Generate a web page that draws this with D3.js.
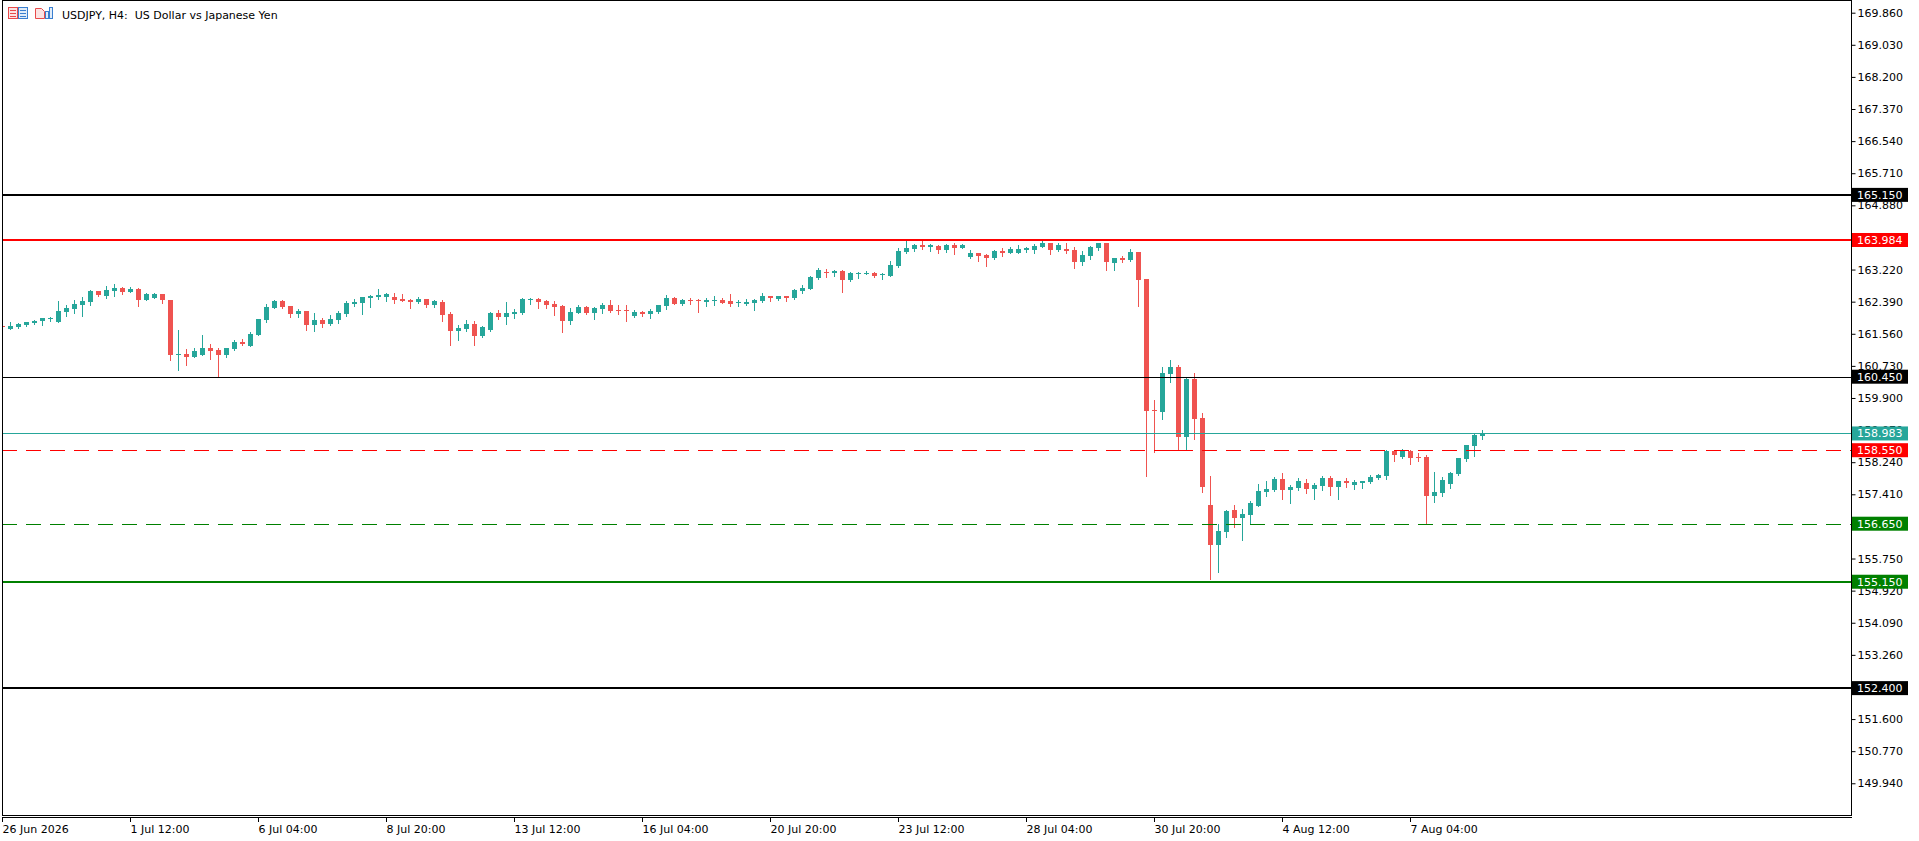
<!DOCTYPE html>
<html>
<head>
<meta charset="utf-8">
<script src="https://cdn.jsdelivr.net/npm/d3@7"></script>
<style>
  html, body { margin: 0; padding: 0; background: #fff; }
  svg { display: block; font-family: "DejaVu Sans", Verdana, sans-serif; font-size: 11px; }
</style>
</head>
<body>
<svg id="chart" width="1919" height="841"></svg>
<script>
// ===== Data (USDJPY H4, bar 0 = 26 Jun 2026 20:00) =====
const opens = [
  161.760, 161.683, 161.734, 161.795, 161.838, 161.890, 161.941, 161.872, 162.122, 162.208,
  162.312, 162.389, 162.665, 162.544, 162.674, 162.743, 162.648, 162.717, 162.441, 162.493,
  162.587, 162.432, 161.019, 161.036, 160.967, 161.019, 161.191, 161.140, 161.019, 161.166,
  161.347, 161.243, 161.528, 161.915, 162.226, 162.407, 162.277, 162.070, 162.148, 161.786,
  161.915, 161.812, 161.915, 162.070, 162.329, 162.355, 162.484, 162.519, 162.519, 162.510,
  162.458, 162.432, 162.381, 162.458, 162.303, 162.381, 162.070, 161.631, 161.683, 161.812,
  161.502, 161.657, 162.096, 161.993, 162.070, 162.096, 162.450, 162.458, 162.407, 162.329,
  162.277, 161.890, 162.096, 162.251, 162.096, 162.200, 162.303, 162.174, 162.174, 162.019,
  162.122, 162.079, 162.122, 162.277, 162.484, 162.337, 162.441, 162.441, 162.389, 162.415,
  162.432, 162.406, 162.355, 162.337, 162.363, 162.406, 162.536, 162.458, 162.536, 162.484,
  162.665, 162.717, 163.001, 163.156, 163.130, 163.182, 162.949, 163.122, 163.113, 163.130,
  163.079, 163.053, 163.311, 163.673, 163.751, 163.854, 163.802, 163.828, 163.725, 163.854,
  163.777, 163.544, 163.647, 163.596, 163.518, 163.699, 163.647, 163.647, 163.725, 163.725,
  163.802, 163.906, 163.725, 163.751, 163.725, 163.415, 163.570, 163.777, 163.906, 163.389,
  163.509, 163.466, 163.673, 162.975, 159.588, 159.537, 160.519, 160.700, 158.890, 160.390,
  159.381, 157.132, 156.098, 156.434, 157.003, 156.805, 156.874, 157.106, 157.468, 157.520,
  157.805, 157.520, 157.572, 157.701, 157.546, 157.624, 157.830, 157.598, 157.753, 157.649,
  157.701, 157.727, 157.830, 157.882, 158.528, 158.373, 158.528, 158.373, 158.373, 157.365,
  157.443, 157.675, 157.934, 158.322, 158.658, 158.916
];
const highs = [
  161.770, 161.864, 161.829, 161.864, 161.915, 161.967, 162.001, 162.407, 162.303, 162.432,
  162.510, 162.691, 162.665, 162.794, 162.846, 162.768, 162.768, 162.743, 162.613, 162.613,
  162.587, 162.432, 161.657, 161.166, 161.191, 161.528, 161.295, 161.191, 161.191, 161.398,
  161.424, 161.605, 161.941, 162.329, 162.432, 162.432, 162.277, 162.200, 162.148, 162.096,
  161.967, 162.045, 162.148, 162.407, 162.458, 162.510, 162.562, 162.717, 162.613, 162.613,
  162.587, 162.458, 162.510, 162.458, 162.432, 162.432, 162.122, 161.786, 161.915, 161.890,
  161.760, 162.122, 162.174, 162.381, 162.200, 162.484, 162.484, 162.484, 162.432, 162.407,
  162.303, 162.226, 162.303, 162.277, 162.251, 162.355, 162.432, 162.303, 162.303, 162.174,
  162.148, 162.200, 162.303, 162.561, 162.510, 162.458, 162.493, 162.458, 162.475, 162.536,
  162.484, 162.587, 162.432, 162.458, 162.458, 162.613, 162.536, 162.536, 162.536, 162.717,
  162.820, 163.053, 163.259, 163.234, 163.208, 163.208, 163.156, 163.156, 163.182, 163.156,
  163.130, 163.440, 163.777, 163.983, 163.880, 163.958, 163.880, 163.854, 163.880, 163.906,
  163.880, 163.725, 163.647, 163.621, 163.725, 163.777, 163.802, 163.854, 163.802, 163.880,
  163.958, 163.906, 163.906, 163.906, 163.802, 163.699, 163.828, 163.906, 163.906, 163.518,
  163.570, 163.751, 163.673, 162.975, 159.847, 160.700, 160.881, 160.752, 160.441, 160.545,
  159.511, 157.882, 156.641, 157.003, 157.132, 157.029, 157.236, 157.675, 157.753, 157.856,
  157.960, 157.649, 157.830, 157.805, 157.701, 157.882, 157.882, 157.753, 157.830, 157.779,
  157.753, 157.908, 157.934, 158.554, 158.554, 158.580, 158.554, 158.477, 158.425, 157.985,
  157.856, 157.985, 158.347, 158.684, 158.968, 159.071
];
const lows = [
  161.740, 161.683, 161.717, 161.769, 161.821, 161.795, 161.898, 161.872, 162.027, 162.105,
  162.027, 162.312, 162.544, 162.493, 162.544, 162.596, 162.648, 162.286, 162.424, 162.475,
  162.363, 160.890, 160.631, 160.760, 160.967, 161.019, 160.916, 160.468, 160.967, 161.140,
  161.269, 161.243, 161.528, 161.864, 162.226, 162.234, 161.993, 161.993, 161.657, 161.631,
  161.734, 161.786, 161.846, 162.027, 162.286, 162.070, 162.251, 162.458, 162.407, 162.355,
  162.415, 162.226, 162.355, 162.251, 162.260, 161.890, 161.269, 161.398, 161.631, 161.269,
  161.476, 161.631, 161.941, 161.812, 161.967, 162.070, 162.338, 162.226, 162.226, 162.045,
  161.605, 161.812, 162.096, 162.070, 161.941, 162.096, 162.122, 162.070, 161.890, 161.993,
  162.019, 161.975, 162.105, 162.208, 162.337, 162.303, 162.337, 162.131, 162.286, 162.312,
  162.363, 162.277, 162.277, 162.312, 162.174, 162.380, 162.406, 162.441, 162.406, 162.458,
  162.613, 162.717, 162.975, 163.027, 163.053, 162.639, 162.923, 163.001, 163.104, 163.027,
  162.975, 163.053, 163.285, 163.647, 163.699, 163.751, 163.699, 163.647, 163.673, 163.621,
  163.777, 163.518, 163.440, 163.311, 163.492, 163.570, 163.647, 163.647, 163.673, 163.647,
  163.802, 163.621, 163.699, 163.647, 163.259, 163.337, 163.492, 163.725, 163.208, 163.208,
  163.415, 163.440, 162.277, 157.882, 158.511, 159.355, 160.312, 158.545, 158.545, 158.839,
  157.468, 155.219, 155.400, 156.305, 156.572, 156.227, 156.658, 157.106, 157.365, 157.494,
  157.288, 157.184, 157.520, 157.443, 157.288, 157.520, 157.391, 157.288, 157.598, 157.546,
  157.572, 157.701, 157.805, 157.805, 158.270, 158.347, 158.192, 158.270, 156.658, 157.210,
  157.365, 157.572, 157.908, 158.270, 158.399, 158.839
];
const closes = [
  161.750, 161.769, 161.812, 161.864, 161.890, 161.967, 161.958, 162.148, 162.226, 162.329,
  162.407, 162.665, 162.570, 162.691, 162.743, 162.648, 162.717, 162.441, 162.587, 162.587,
  162.441, 161.019, 161.028, 160.967, 161.114, 161.191, 161.114, 161.019, 161.191, 161.347,
  161.295, 161.553, 161.941, 162.251, 162.407, 162.251, 162.070, 162.148, 161.786, 161.915,
  161.812, 161.941, 162.096, 162.355, 162.381, 162.510, 162.536, 162.562, 162.587, 162.432,
  162.415, 162.389, 162.458, 162.303, 162.407, 162.045, 161.631, 161.708, 161.812, 161.502,
  161.734, 162.096, 161.993, 162.096, 162.122, 162.458, 162.458, 162.381, 162.303, 162.251,
  161.890, 162.122, 162.251, 162.096, 162.226, 162.303, 162.148, 162.157, 162.157, 162.122,
  162.070, 162.148, 162.303, 162.484, 162.337, 162.432, 162.415, 162.398, 162.432, 162.432,
  162.363, 162.337, 162.372, 162.389, 162.441, 162.536, 162.484, 162.536, 162.484, 162.691,
  162.742, 163.027, 163.208, 163.139, 163.182, 162.949, 163.130, 163.139, 163.130, 163.053,
  163.096, 163.337, 163.699, 163.777, 163.854, 163.802, 163.854, 163.725, 163.854, 163.777,
  163.854, 163.647, 163.570, 163.518, 163.699, 163.656, 163.751, 163.751, 163.777, 163.828,
  163.906, 163.725, 163.854, 163.699, 163.415, 163.596, 163.802, 163.906, 163.415, 163.518,
  163.466, 163.673, 162.949, 159.562, 159.571, 160.545, 160.700, 158.890, 160.390, 159.355,
  157.598, 156.098, 156.460, 156.977, 156.805, 156.900, 157.184, 157.494, 157.546, 157.805,
  157.520, 157.598, 157.753, 157.546, 157.649, 157.830, 157.598, 157.753, 157.710, 157.727,
  157.753, 157.856, 157.908, 158.528, 158.425, 158.528, 158.347, 158.347, 157.365, 157.468,
  157.779, 157.960, 158.347, 158.684, 158.942, 158.983
];

// price axis ticks (every 0.83)
const yTicks = [169.86, 169.03, 168.20, 167.37, 166.54, 165.71, 164.88, 164.05, 163.22, 162.39,
  161.56, 160.73, 159.90, 159.07, 158.24, 157.41, 156.58, 155.75, 154.92, 154.09,
  153.26, 152.43, 151.60, 150.77, 149.94];

// time axis: bar index + label
const xTickBars = [0, 16, 32, 48, 64, 80, 96, 112, 128, 144, 160, 176];
const xTickLabels = ["26 Jun 2026", "1 Jul 12:00", "6 Jul 04:00", "8 Jul 20:00", "13 Jul 12:00",
  "16 Jul 04:00", "20 Jul 20:00", "23 Jul 12:00", "28 Jul 04:00", "30 Jul 20:00",
  "4 Aug 12:00", "7 Aug 04:00"];

// horizontal levels drawn on the chart
const levelValues = [165.150, 163.984, 160.450, 158.983, 158.550, 156.650, 155.150, 152.400];
const levelKinds = ["black2", "red2", "black1", "teal1", "redDash", "greenDash", "green2", "black2"];

// short segment on the 158.550 level (bar indices)
const segBars = [144, 148];
const segValue = 158.550;

// ===== Styles =====
const UP = "#26a69a", DOWN = "#ef5350";
const kindStyle = {
  black2:    { color: "#000000", w: 2, dash: null, label: "#000000" },
  black1:    { color: "#000000", w: 1, dash: null, label: "#000000" },
  red2:      { color: "#ff0000", w: 2, dash: null, label: "#ff0000" },
  teal1:     { color: "#26a69a", w: 1, dash: null, label: "#26a69a" },
  redDash:   { color: "#ff0000", w: 1, dash: "15,9", label: "#ff0000" },
  greenDash: { color: "#008000", w: 1, dash: "15,9", label: "#008000" },
  green2:    { color: "#008000", w: 2, dash: null, label: "#008000" }
};

// ===== Layout =====
const svg = d3.select("#chart");
const plot = { left: 2, top: 0, right: 1851, bottom: 815 };

const x = d3.scaleLinear().domain([0, 231]).range([2.5, 1850.5]);
const y = d3.scaleLinear().domain([149.12, 170.188]).range([plot.bottom, plot.top]);

const crisp = (v, w) => (w % 2 === 1 ? Math.round(v) + 0.5 : Math.round(v));

// clip for the plot area
svg.append("defs").append("clipPath").attr("id", "plotClip")
  .append("rect")
  .attr("x", plot.left + 1).attr("y", plot.top + 1)
  .attr("width", plot.right - plot.left - 1).attr("height", plot.bottom - plot.top - 1);

const g = svg.append("g").attr("clip-path", "url(#plotClip)");

// ===== Candles =====
const bars = opens.map((o, i) => ({ i, o, h: highs[i], l: lows[i], c: closes[i] }));

g.append("g").selectAll("line")
  .data(bars)
  .join("line")
  .attr("x1", d => x(d.i)).attr("x2", d => x(d.i))
  .attr("y1", d => Math.round(y(d.h)))
  .attr("y2", d => Math.round(y(d.l)) + 1)
  .attr("stroke", d => (d.c >= d.o ? UP : DOWN))
  .attr("stroke-width", 1);

g.append("g").selectAll("rect")
  .data(bars)
  .join("rect")
  .attr("x", d => x(d.i) - 2.5)
  .attr("width", 5)
  .attr("y", d => Math.round(y(Math.max(d.o, d.c))))
  .attr("height", d => Math.max(1, Math.round(y(Math.min(d.o, d.c))) - Math.round(y(Math.max(d.o, d.c)))))
  .attr("fill", d => (d.c >= d.o ? UP : DOWN));

// ===== Levels =====
const levels = levelValues.map((v, i) => ({ v, s: kindStyle[levelKinds[i]] }));

g.append("g").selectAll("line")
  .data(levels)
  .join("line")
  .attr("x1", plot.left).attr("x2", plot.right)
  .attr("y1", d => crisp(y(d.v), d.s.w))
  .attr("y2", d => crisp(y(d.v), d.s.w))
  .attr("stroke", d => d.s.color)
  .attr("stroke-width", d => d.s.w)
  .attr("stroke-dasharray", d => d.s.dash);

g.append("line")
  .attr("x1", x(segBars[0])).attr("x2", x(segBars[1]))
  .attr("y1", crisp(y(segValue), 1)).attr("y2", crisp(y(segValue), 1))
  .attr("stroke", "#ff0000").attr("stroke-width", 1);

// ===== Frame =====
const frame = svg.append("g").attr("stroke", "#000").attr("stroke-width", 1).attr("fill", "none");
frame.append("rect")
  .attr("x", plot.left + 0.5).attr("y", plot.top + 0.5)
  .attr("width", plot.right - plot.left).attr("height", plot.bottom - plot.top);
frame.append("line")
  .attr("x1", plot.left).attr("x2", plot.right + 1)
  .attr("y1", plot.bottom + 2.5).attr("y2", plot.bottom + 2.5);

// ===== Price axis =====
const yAxisG = svg.append("g")
  .attr("transform", `translate(${plot.right + 0.5},0)`)
  .call(d3.axisRight(y).tickValues(yTicks).tickFormat(d3.format(".3f")).tickSize(4).tickPadding(2));
yAxisG.select(".domain").remove();
yAxisG.selectAll(".tick line").attr("stroke", "#000");
yAxisG.selectAll(".tick text")
  .attr("fill", "#000")
  .style("font-family", "'DejaVu Sans', Verdana, sans-serif")
  .style("font-size", "11px");

// level labels on the price axis
const lab = svg.append("g").selectAll("g")
  .data(levels)
  .join("g")
  .attr("transform", d => `translate(${plot.right + 1},${y(d.v)})`);
lab.append("rect")
  .attr("x", 0).attr("y", -7).attr("width", 56).attr("height", 14)
  .attr("fill", d => d.s.label);
lab.append("text")
  .attr("x", 5).attr("y", 0).attr("dy", "0.36em")
  .attr("fill", "#fff")
  .text(d => d3.format(".3f")(d.v));

// ===== Time axis =====
const xAxisG = svg.append("g")
  .attr("transform", `translate(0,${plot.bottom + 3})`)
  .call(d3.axisBottom(x).tickValues(xTickBars).tickFormat((d, i) => xTickLabels[i]).tickSize(4).tickPadding(2));
xAxisG.select(".domain").remove();
xAxisG.selectAll(".tick line").attr("stroke", "#000").attr("transform", "translate(-0.5,0)");
xAxisG.selectAll(".tick text")
  .attr("text-anchor", "start")
  .attr("x", -0.5)
  .attr("y", 7)
  .attr("fill", "#000")
  .style("font-family", "'DejaVu Sans', Verdana, sans-serif")
  .style("font-size", "11px");

// ===== Title and icons =====
const icons = svg.append("g").attr("fill", "none").attr("stroke-width", 1);
icons.append("rect").attr("x", 8.5).attr("y", 7.5).attr("width", 9).attr("height", 11).attr("stroke", "#e84a4a").attr("fill", "#fbe3e3");
icons.append("rect").attr("x", 18.5).attr("y", 7.5).attr("width", 9).attr("height", 11).attr("stroke", "#3a7fd0").attr("fill", "#e1ecf8");
[10.5, 13.5, 16.5].forEach(v => {
  icons.append("line").attr("x1", 10).attr("x2", 16).attr("y1", v).attr("y2", v).attr("stroke", "#e84a4a");
  icons.append("line").attr("x1", 20).attr("x2", 26).attr("y1", v).attr("y2", v).attr("stroke", "#3a7fd0");
});
icons.append("path").attr("d", "M35.5,8.5 H41.5 L44.5,11.5 V18.5 H35.5 Z").attr("stroke", "#e84a4a").attr("fill", "#fbe3e3");
icons.append("rect").attr("x", 45.5).attr("y", 11.5).attr("width", 3).attr("height", 7).attr("stroke", "#3a7fd0").attr("fill", "#e1ecf8");
icons.append("rect").attr("x", 49.5).attr("y", 7.5).attr("width", 3).attr("height", 11).attr("stroke", "#3a7fd0").attr("fill", "#e1ecf8");

svg.append("text")
  .attr("x", 62).attr("y", 19)
  .attr("fill", "#000")
  .attr("xml:space", "preserve")
  .style("white-space", "pre")
  .text("USDJPY, H4:  US Dollar vs Japanese Yen");
</script>
</body>
</html>
